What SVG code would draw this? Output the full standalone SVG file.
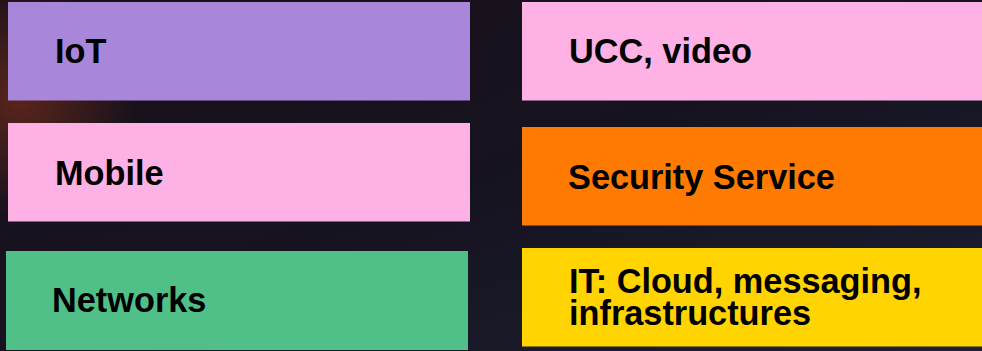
<svg xmlns="http://www.w3.org/2000/svg" width="982" height="351" viewBox="0 0 982 351">
<defs>
<linearGradient id="bg" x1="0" y1="0" x2="1" y2="1">
<stop offset="0" stop-color="#1a1018"/>
<stop offset="0.5" stop-color="#161320"/>
<stop offset="1" stop-color="#1c2030"/>
</linearGradient>
<radialGradient id="glow" cx="0.02" cy="0.3" r="0.12" gradientTransform="scale(1,2.8) translate(0,-0.2)">
<stop offset="0" stop-color="#6a2a1c" stop-opacity="0.8"/>
<stop offset="1" stop-color="#6a2a1c" stop-opacity="0"/>
</radialGradient>
<style>
.lbl{font-family:"Liberation Sans",Arial,sans-serif;font-weight:bold;font-size:34.3px;fill:#000}
</style>
</defs>
<rect x="0" y="0" width="982" height="351" fill="url(#bg)"/>
<rect x="0" y="0" width="982" height="351" fill="url(#glow)"/>
<g id="iot"><rect x="8" y="2" width="462" height="98.5" fill="#a886d9"/><text class="lbl" x="55" y="63">IoT</text></g>
<g id="mobile"><rect x="8" y="123" width="462" height="98.5" fill="#feb1e5"/><text class="lbl" x="55" y="185">Mobile</text></g>
<g id="networks"><rect x="6" y="251" width="462" height="99" fill="#50c088"/><text class="lbl" x="52" y="312">Networks</text></g>
<g id="ucc"><rect x="522" y="2" width="460" height="98.5" fill="#feb1e5"/><text class="lbl" x="569" y="63">UCC, video</text></g>
<g id="security"><rect x="522" y="127" width="460" height="98.5" fill="#ff7a00"/><text class="lbl" x="568" y="189">Security Service</text></g>
<g id="it"><rect x="522" y="248" width="460" height="98.5" fill="#ffd400"/><text class="lbl"><tspan x="569" y="293">IT: Cloud, messaging,</tspan><tspan x="569" y="325">infrastructures</tspan></text></g>
<g id="connectors"/>
</svg>
